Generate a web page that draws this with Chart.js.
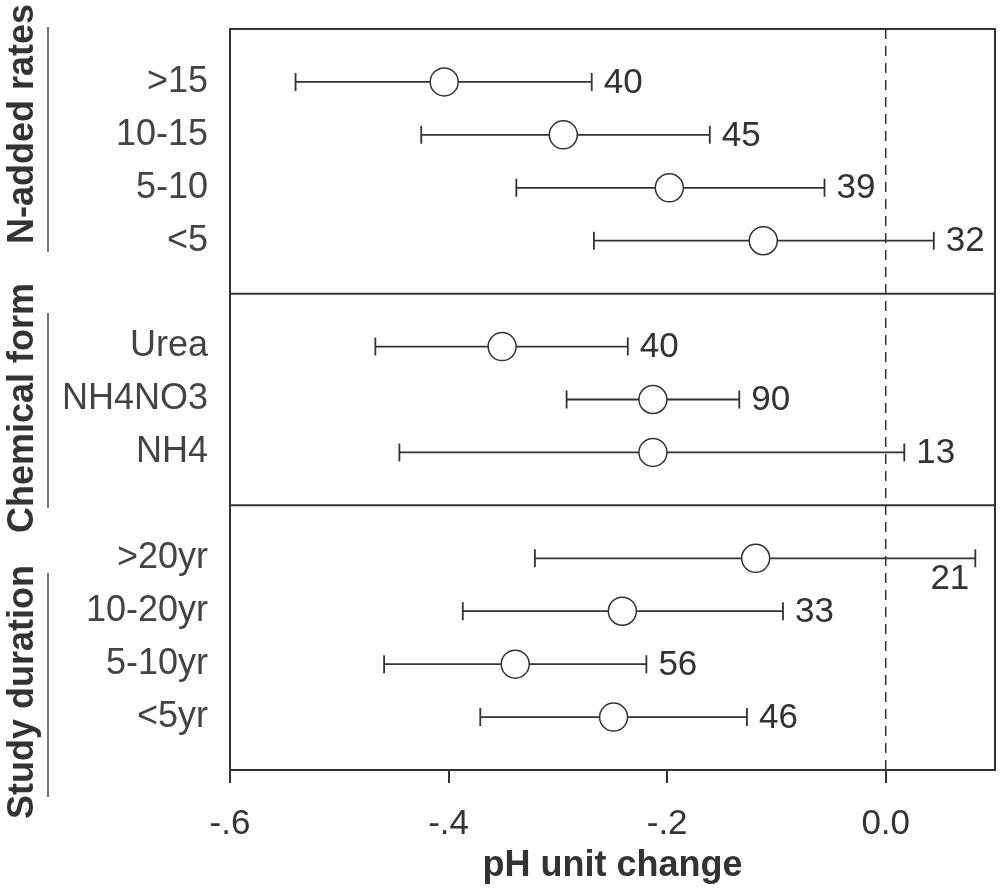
<!DOCTYPE html>
<html>
<head>
<meta charset="utf-8">
<script src="https://cdn.jsdelivr.net/npm/chart.js@4.4.1/dist/chart.umd.min.js"></script>
<style>
  html, body { margin: 0; padding: 0; background: #fff; }
</style>
</head>
<body>
<canvas id="chart" width="1000" height="895"></canvas>
<script>
// y rows, top to bottom; the blank entries are the gaps between groups
const categories = ['', '>15', '10-15', '5-10', '<5', '', 'Urea', 'NH4NO3', 'NH4', '', '>20yr', '10-20yr', '5-10yr', '<5yr', ''];

const rowLabels = ['>15', '10-15', '5-10', '<5', 'Urea', 'NH4NO3', 'NH4', '>20yr', '10-20yr', '5-10yr', '<5yr'];
const meanChange = [-0.404, -0.295, -0.198, -0.112, -0.351, -0.213, -0.213, -0.119, -0.241, -0.339, -0.249];
const ciLow  = [-0.540, -0.425, -0.338, -0.267, -0.467, -0.292, -0.445, -0.321, -0.387, -0.459, -0.371];
const ciHigh = [-0.269, -0.161, -0.056, 0.044, -0.236, -0.134, 0.017, 0.082, -0.094, -0.219, -0.127];
const sampleSize = [40, 45, 39, 32, 40, 90, 13, 21, 33, 56, 46];

const groupNames = ['N-added rates', 'Chemical form', 'Study duration'];

const xTicks = [-0.6, -0.4, -0.2, 0.0];
const xTickLabels = ['-.6', '-.4', '-.2', '0.0'];

const INK = '#333';
const FONT = "'Liberation Sans', Arial, sans-serif";

// group label placement (pixels): text centre, bracket line top/bottom
const GROUP_CENTER = [124, 408, 692];
const GROUP_LINE = [[27, 252], [313, 508], [573, 797]];

// stop Chart.js from reserving room for half-labels at the axis ends
function noEdgePadding(s) {
    s.paddingTop = 0;
    s.paddingBottom = 0;
    s.paddingLeft = 0;
    s.paddingRight = 0;
}

const forestPlugin = {
    id: 'forest',
    beforeDatasetsDraw(chart) {
        const { ctx, chartArea: a, scales: { x, y } } = chart;
        ctx.save();

        // dashed zero line
        ctx.strokeStyle = INK;
        ctx.lineWidth = 1.5;
        ctx.setLineDash([10, 7]);
        const x0 = x.getPixelForValue(0);
        ctx.beginPath();
        ctx.moveTo(x0, a.top);
        ctx.lineTo(x0, a.bottom);
        ctx.stroke();
        ctx.setLineDash([]);

        // separators between groups
        ctx.lineWidth = 2;
        categories.forEach((c, i) => {
            if (c === '' && i > 0 && i < categories.length - 1) {
                const py = y.getPixelForValue(i);
                ctx.beginPath();
                ctx.moveTo(a.left, py);
                ctx.lineTo(a.right, py);
                ctx.stroke();
            }
        });

        // confidence intervals
        ctx.lineWidth = 1.8;
        rowLabels.forEach((lab, i) => {
            const py = y.getPixelForValue(categories.indexOf(lab));
            const xl = x.getPixelForValue(ciLow[i]);
            const xh = x.getPixelForValue(ciHigh[i]);
            ctx.beginPath();
            ctx.moveTo(xl, py); ctx.lineTo(xh, py);
            ctx.moveTo(xl, py - 9); ctx.lineTo(xl, py + 9);
            ctx.moveTo(xh, py - 9); ctx.lineTo(xh, py + 9);
            ctx.stroke();
        });
        ctx.restore();
    },
    afterDatasetsDraw(chart) {
        const { ctx, chartArea: a, scales: { x, y } } = chart;
        ctx.save();
        ctx.font = '35px ' + FONT;
        ctx.fillStyle = INK;
        rowLabels.forEach((lab, i) => {
            const py = y.getPixelForValue(categories.indexOf(lab));
            const xh = x.getPixelForValue(ciHigh[i]);
            const txt = String(sampleSize[i]);
            const w = ctx.measureText(txt).width;
            if (xh + 12 + w > a.right) {
                // no room on the right: tuck it under the whisker
                ctx.textAlign = 'right';
                ctx.textBaseline = 'top';
                ctx.fillText(txt, xh - 6, py + 4);
            } else {
                ctx.textAlign = 'left';
                ctx.textBaseline = 'middle';
                ctx.fillText(txt, xh + 12, py + 1);
            }
        });
        ctx.restore();
    },
    afterDraw(chart) {
        const { ctx, chartArea: a } = chart;
        ctx.save();
        ctx.strokeStyle = INK;
        ctx.lineWidth = 2;
        ctx.strokeRect(a.left, a.top, a.right - a.left, a.bottom - a.top);

        // rotated group titles with bracket lines
        ctx.fillStyle = INK;
        ctx.font = 'bold 36px ' + FONT;
        ctx.textAlign = 'center';
        ctx.textBaseline = 'alphabetic';
        groupNames.forEach((name, i) => {
            ctx.save();
            ctx.translate(33, GROUP_CENTER[i]);
            ctx.rotate(-Math.PI / 2);
            ctx.fillText(name, 0, 0);
            ctx.restore();

            ctx.strokeStyle = '#777';
            ctx.beginPath();
            ctx.moveTo(48, GROUP_LINE[i][0]);
            ctx.lineTo(48, GROUP_LINE[i][1]);
            ctx.stroke();
        });
        ctx.restore();
    }
};

new Chart(document.getElementById('chart'), {
    type: 'scatter',
    data: {
        datasets: [{
            data: rowLabels.map((lab, i) => ({ x: meanChange[i], y: lab })),
            pointRadius: 14,
            pointHoverRadius: 14,
            pointBackgroundColor: '#fff',
            pointBorderColor: INK,
            pointBorderWidth: 1.5
        }]
    },
    options: {
        responsive: false,
        animation: false,
        layout: { autoPadding: false, padding: { top: 29, right: 5, left: 0, bottom: 0 } },
        plugins: {
            legend: { display: false },
            tooltip: { enabled: false }
        },
        scales: {
            x: {
                type: 'linear',
                min: -0.6,
                max: 0.1,
                afterBuildTicks: s => { s.ticks = xTicks.map(v => ({ value: v })); },
                afterFit: s => { s.height = 125; noEdgePadding(s); },
                grid: { display: true, drawOnChartArea: false, drawTicks: true, tickLength: 13, color: INK, lineWidth: 2 },
                border: { display: true, color: INK, width: 2 },
                ticks: {
                    callback: (v, i) => xTickLabels[i],
                    font: { family: FONT, size: 35 },
                    color: INK,
                    padding: 20,
                    maxRotation: 0,
                    autoSkip: false
                },
                title: {
                    display: true,
                    text: 'pH unit change',
                    font: { family: FONT, size: 36, weight: 'bold' },
                    color: INK,
                    padding: { top: 0, bottom: 7 }
                }
            },
            y: {
                type: 'category',
                labels: categories,
                offset: false,
                afterFit: s => { s.width = 230; noEdgePadding(s); },
                grid: { display: false },
                border: { display: true, color: INK, width: 2 },
                ticks: {
                    font: { family: FONT, size: 36 },
                    color: '#444',
                    padding: 14,
                    autoSkip: false
                }
            }
        }
    },
    plugins: [forestPlugin]
});
</script>
</body>
</html>
